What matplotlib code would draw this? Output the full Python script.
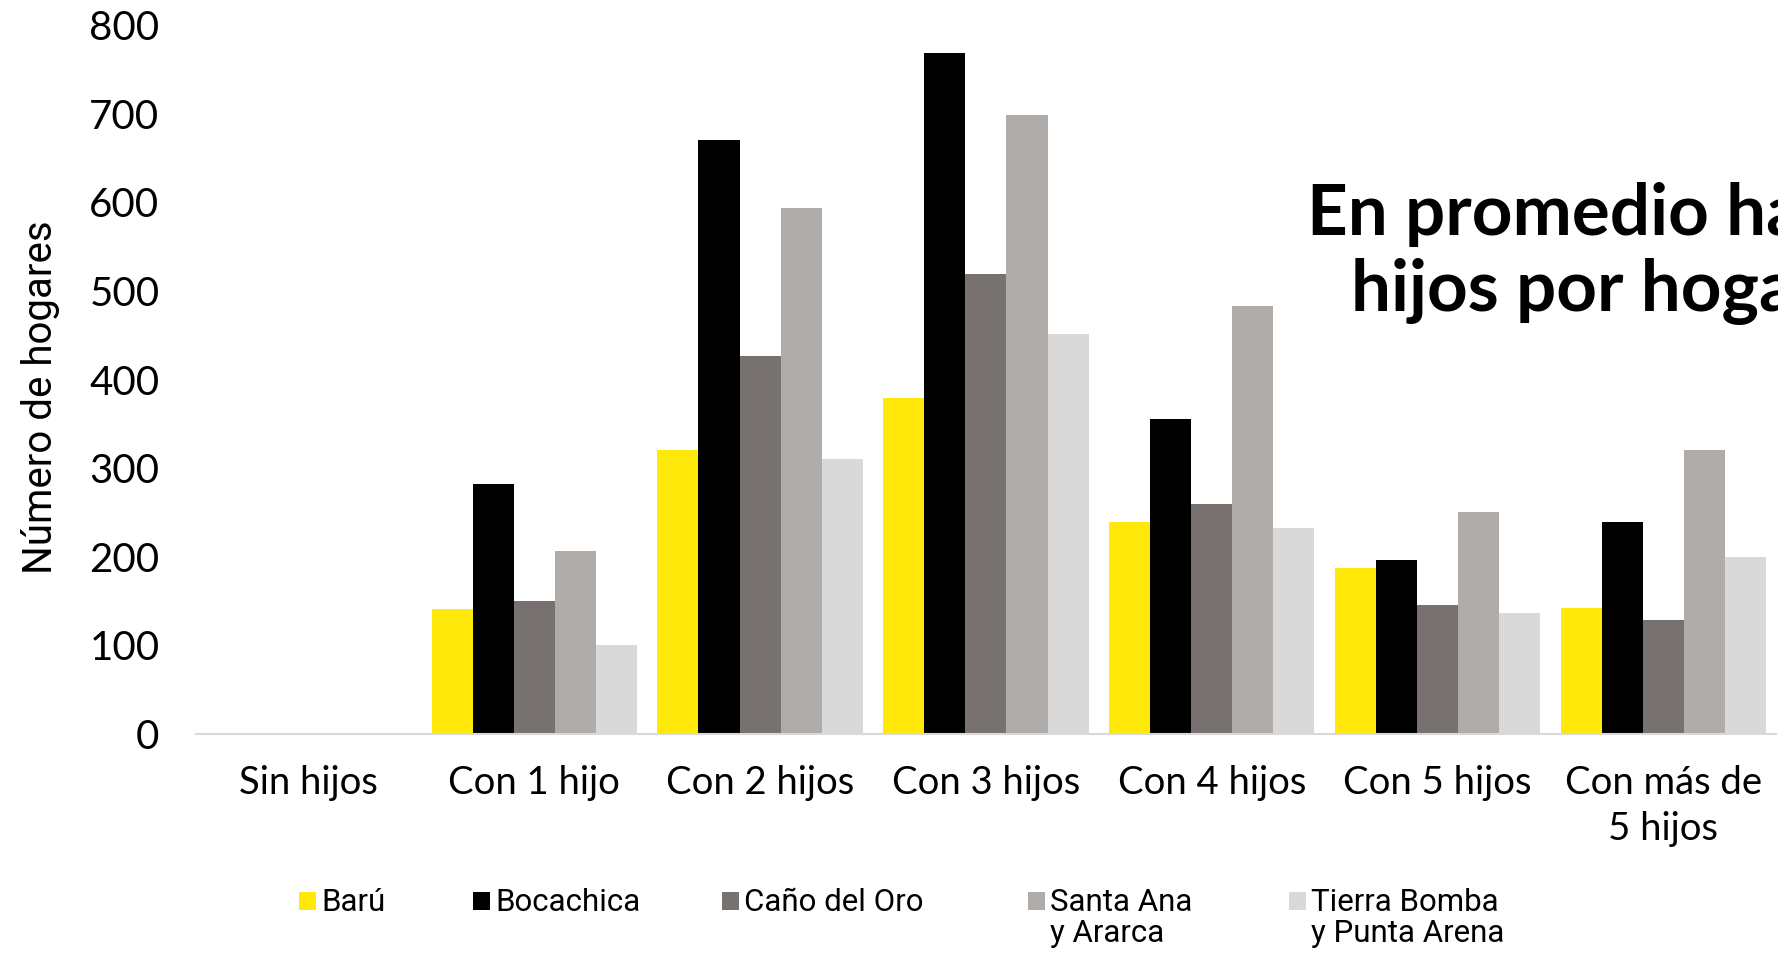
import matplotlib
matplotlib.use("Agg")
import matplotlib.pyplot as plt
import numpy as np
from matplotlib.patches import Rectangle

categories = ["Sin hijos", "Con 1 hijo", "Con 2 hijos", "Con 3 hijos",
              "Con 4 hijos", "Con 5 hijos", "Con más de\n5 hijos"]
series = ["Barú", "Bocachica", "Caño del Oro", "Santa Ana\ny Ararca",
          "Tierra Bomba\ny Punta Arena"]
baru = [0, 141, 321, 379, 239, 187, 142]
bocachica = [0, 282, 670, 768, 355, 196, 239]
cano_del_oro = [0, 150, 426, 519, 260, 146, 129]
santa_ana = [0, 207, 594, 699, 483, 251, 320]
tierra_bomba = [0, 101, 310, 451, 232, 136, 200]
values = [baru, bocachica, cano_del_oro, santa_ana, tierra_bomba]
colors = ["#FFE80A", "#000000", "#777270", "#AFACAA", "#D9D9D9"]

NARROW = ["Roboto", "DejaVu Sans"]
MAIN = ["Lato", "DejaVu Sans"]

fig = plt.figure(figsize=(17.78, 9.55), dpi=100)
ax = fig.add_axes([0.110, 0.2314, 0.889, 0.7424])

x = np.arange(len(categories))
w = 0.182
for i, (vals, c) in enumerate(zip(values, colors)):
    ax.bar(x + (i - 2) * w, vals, width=w, color=c, linewidth=0)

ax.set_xlim(-0.5, len(categories) - 0.5)
ax.set_ylim(0, 800)
ax.set_yticks(range(0, 801, 100))
ax.set_xticks(x)
ax.set_xticklabels(categories, fontsize=27.5, family=MAIN, linespacing=1.35)
for t in ax.get_yticklabels():
    t.set_fontsize(29)
    t.set_family(MAIN)
ax.tick_params(axis="both", length=0)
ax.tick_params(axis="y", pad=26)
ax.tick_params(axis="x", pad=22)
for s in ["top", "right", "left"]:
    ax.spines[s].set_visible(False)
ax.spines["bottom"].set_color("#D9D9D9")
ax.spines["bottom"].set_linewidth(1.5)

ax.set_ylabel("Número de hogares", fontsize=29, family=NARROW)
ax.yaxis.set_label_coords(-0.086, 0.475)

# titular (cortado en el borde derecho, como en la lámina original)
fig.text(0.735, 0.775, "En promedio hay", fontsize=51, fontweight="bold",
         family=MAIN, ha="left", va="center")
fig.text(0.760, 0.695, "hijos por hogar", fontsize=51, fontweight="bold",
         family=MAIN, ha="left", va="center")

# leyenda manual
leg_x = [0.168, 0.266, 0.406, 0.578, 0.725]
for lx, name, c in zip(leg_x, series, colors):
    fig.patches.append(Rectangle((lx, 0.047), 0.0095, 0.0185, transform=fig.transFigure,
                                 facecolor=c, edgecolor="none"))
    fig.text(lx + 0.0125, 0.0705, name, fontsize=22.5, family=NARROW,
             ha="left", va="top", linespacing=1.1)

fig.savefig("out.png", dpi=100)
